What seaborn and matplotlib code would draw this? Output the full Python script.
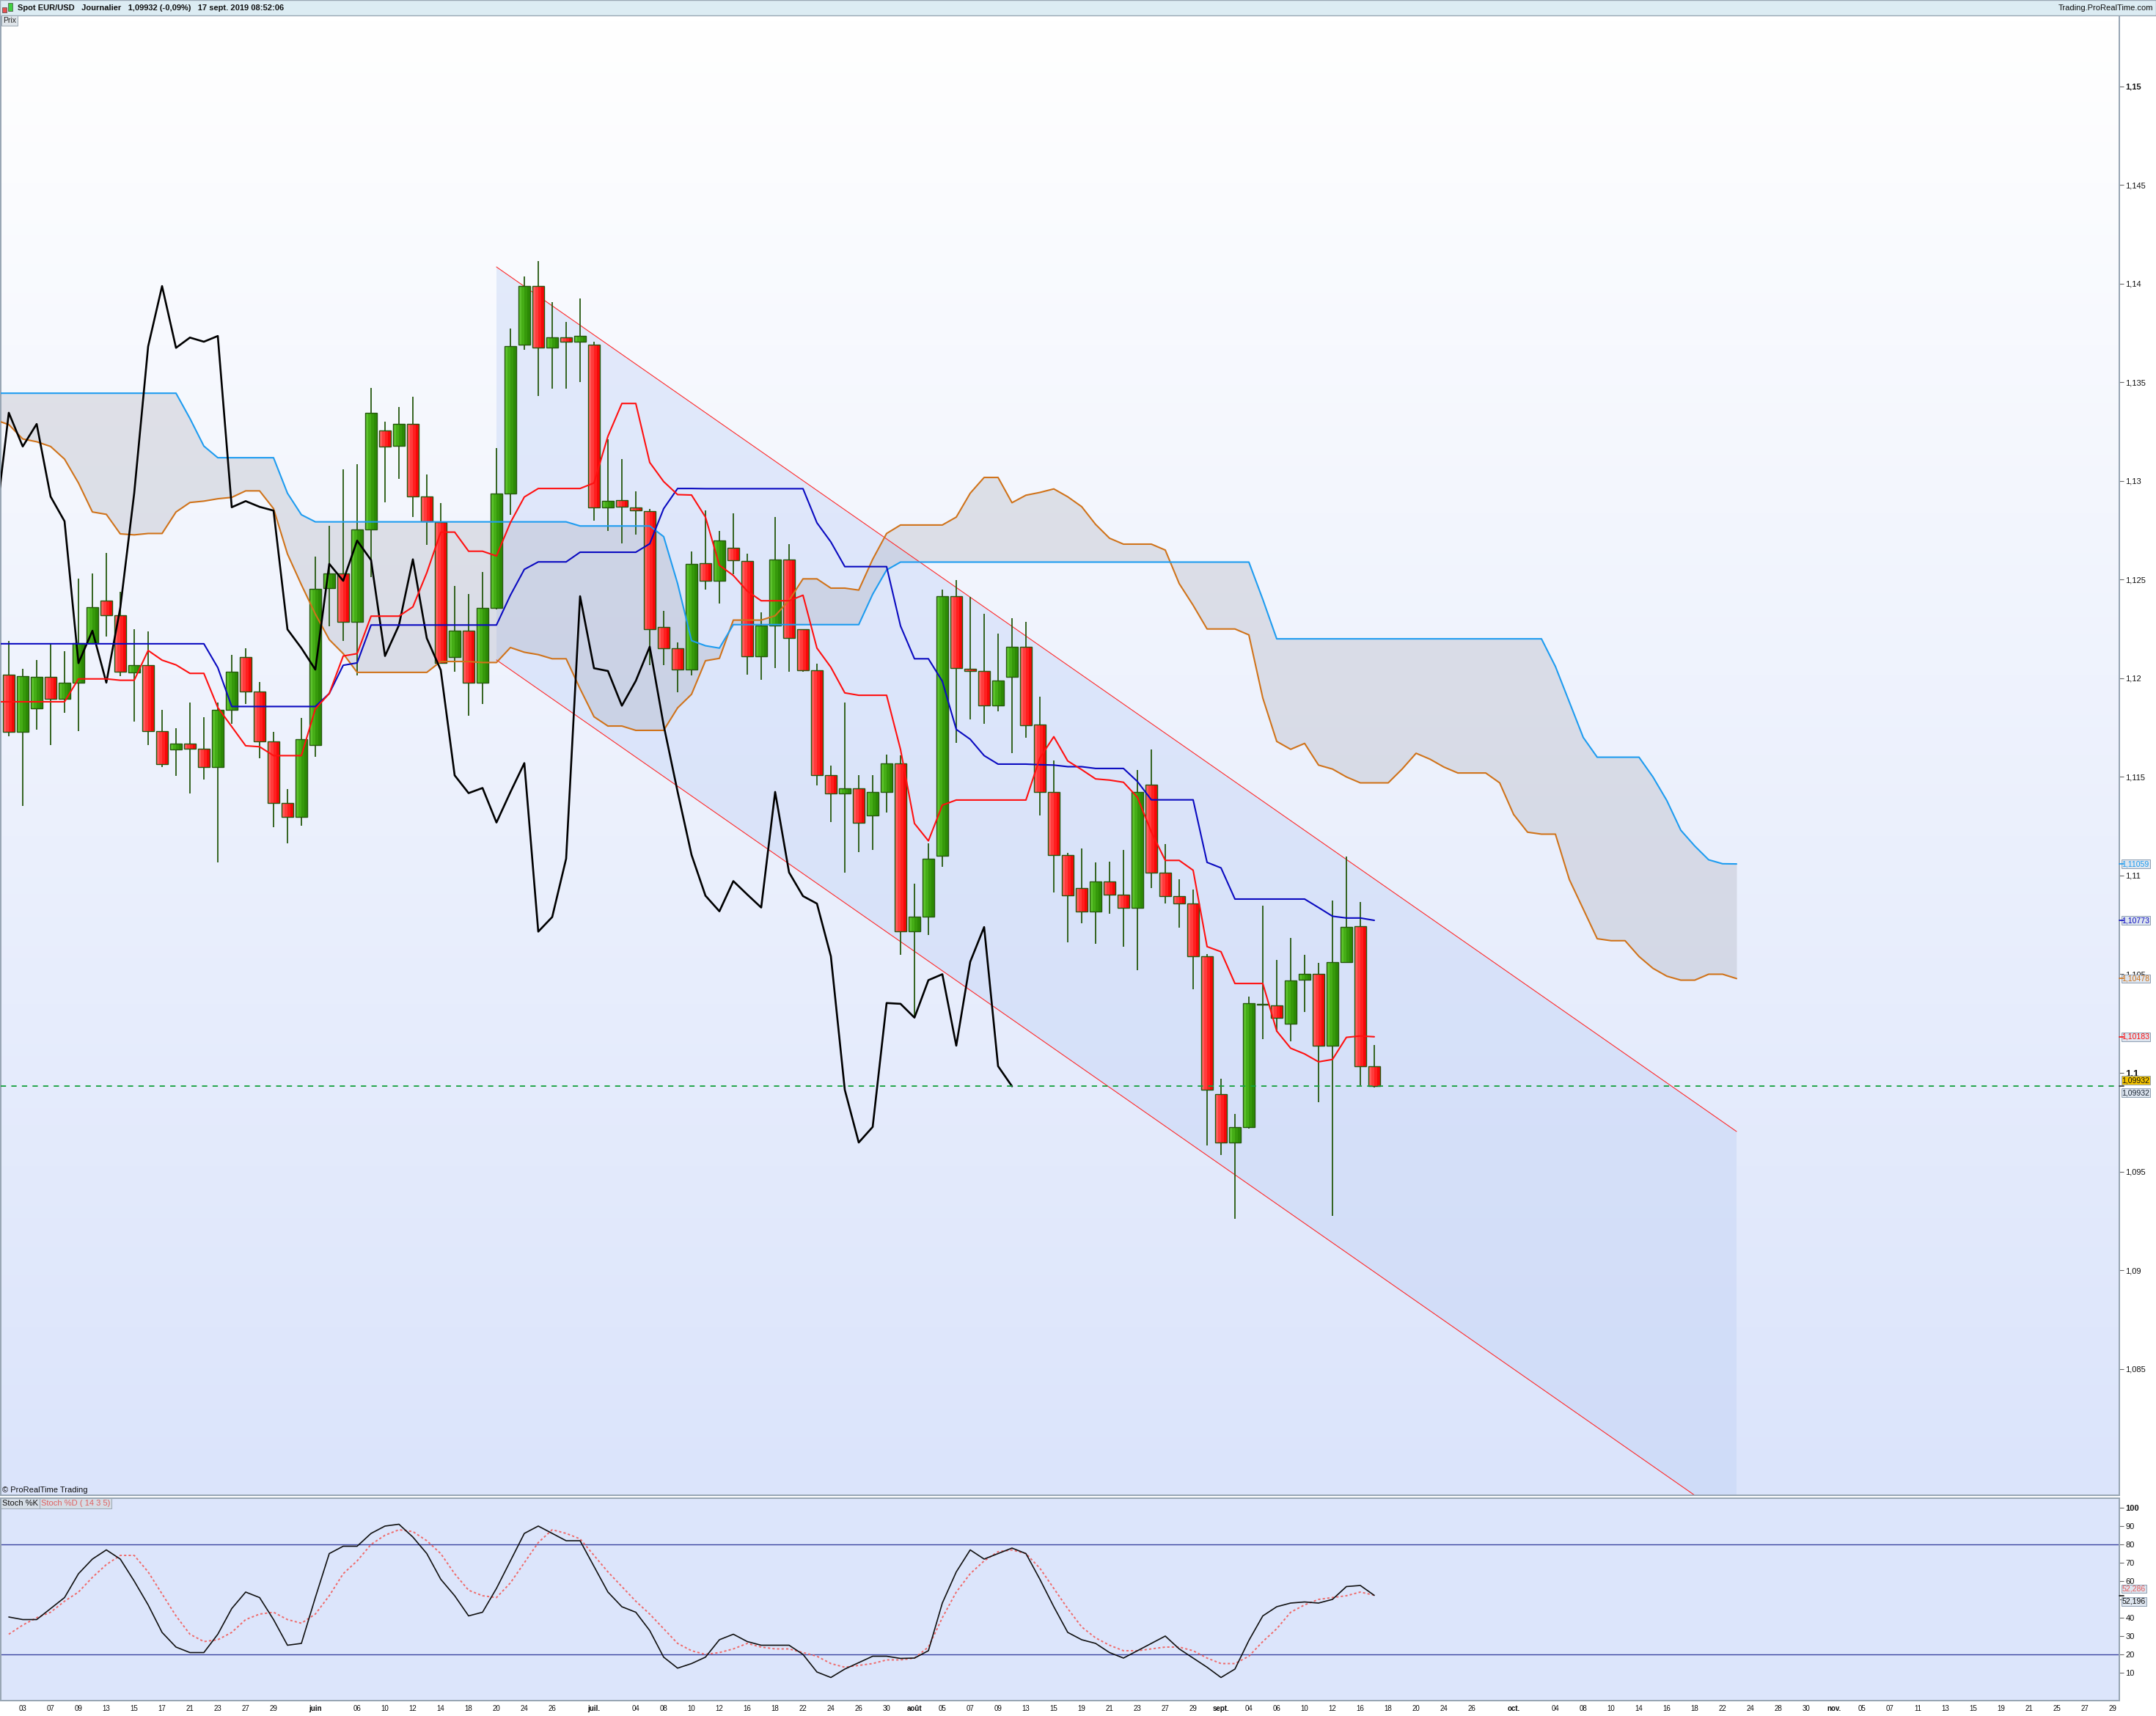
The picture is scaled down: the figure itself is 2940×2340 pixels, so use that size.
import numpy as np
import pandas as pd
import matplotlib
matplotlib.use("Agg")
import matplotlib.pyplot as plt
import seaborn as sns
from matplotlib.patches import Rectangle, Polygon
from matplotlib.colors import LinearSegmentedColormap

# ---- daily candles EUR/USD, 2 May .. 17 Sept 2019 (99 sessions) ----
opens = [1.12018, 1.11727, 1.11848, 1.12009, 1.11895, 1.11976, 1.12179, 1.12393, 1.12319, 1.12030,
         1.12068, 1.11731, 1.11639, 1.11670, 1.11644, 1.11551, 1.11840, 1.12108, 1.11933, 1.11679,
         1.11369, 1.11298, 1.11663, 1.12457, 1.12533, 1.12286, 1.12753, 1.13258, 1.13177, 1.13289,
         1.12921, 1.12793, 1.12108, 1.12241, 1.11978, 1.12357, 1.12938, 1.13690, 1.13988, 1.13675,
         1.13730, 1.13706, 1.13690, 1.12867, 1.12903, 1.12867, 1.12848, 1.12260, 1.12151, 1.12044,
         1.12582, 1.12494, 1.12663, 1.12596, 1.12113, 1.12269, 1.12603, 1.12250, 1.12042, 1.11508,
         1.11418, 1.11444, 1.11304, 1.11423, 1.11570, 1.10716, 1.10790, 1.11101, 1.12416, 1.12049,
         1.12037, 1.11861, 1.12006, 1.12160, 1.11767, 1.11425, 1.11105, 1.10936, 1.10819, 1.10972,
         1.10902, 1.10838, 1.11460, 1.11016, 1.10894, 1.10857, 1.10591, 1.09891, 1.09647, 1.09726,
         1.10346, 1.10341, 1.10250, 1.10472, 1.10500, 1.10138, 1.10563, 1.10743, 1.10032]
highs = [1.12189, 1.12047, 1.12092, 1.12177, 1.12137, 1.12507, 1.12530, 1.12635, 1.12438, 1.12248,
         1.12236, 1.11840, 1.11746, 1.11876, 1.11802, 1.11876, 1.12120, 1.12153, 1.11983, 1.11727,
         1.11437, 1.11800, 1.12618, 1.12772, 1.13061, 1.13085, 1.13471, 1.13301, 1.13374, 1.13426,
         1.13033, 1.12888, 1.12469, 1.12428, 1.12537, 1.13166, 1.13773, 1.14036, 1.14114, 1.13905,
         1.13808, 1.13924, 1.13706, 1.13211, 1.13111, 1.12948, 1.12860, 1.12341, 1.12182, 1.12642,
         1.12852, 1.12748, 1.12836, 1.12632, 1.12336, 1.12817, 1.12679, 1.12250, 1.12075, 1.11558,
         1.11876, 1.11508, 1.11508, 1.11613, 1.11608, 1.10958, 1.11165, 1.12449, 1.12497, 1.12414,
         1.12326, 1.12227, 1.12305, 1.12286, 1.11907, 1.11583, 1.11114, 1.11137, 1.11067, 1.11071,
         1.11130, 1.11535, 1.11640, 1.11160, 1.10982, 1.10930, 1.10604, 1.09971, 1.09793, 1.10386,
         1.10847, 1.10572, 1.10684, 1.10599, 1.10559, 1.10874, 1.11097, 1.10866, 1.10142]
lows = [1.11705, 1.11352, 1.11739, 1.11663, 1.11824, 1.11731, 1.12179, 1.12213, 1.12011, 1.11781,
        1.11660, 1.11549, 1.11504, 1.11418, 1.11485, 1.11068, 1.11769, 1.11869, 1.11594, 1.11245,
        1.11165, 1.11253, 1.11601, 1.12262, 1.12191, 1.12016, 1.12514, 1.12893, 1.13009, 1.12819,
        1.12677, 1.12077, 1.12035, 1.11812, 1.11869, 1.12348, 1.12827, 1.13666, 1.13429, 1.13467,
        1.13469, 1.13500, 1.12798, 1.12746, 1.12682, 1.12727, 1.12068, 1.12068, 1.11928, 1.12016,
        1.12449, 1.12378, 1.12528, 1.12018, 1.11994, 1.12051, 1.12032, 1.12035, 1.11456, 1.11271,
        1.11013, 1.11117, 1.11129, 1.11319, 1.10600, 1.10280, 1.10700, 1.11046, 1.11672, 1.11790,
        1.11769, 1.11831, 1.11620, 1.11698, 1.11306, 1.10913, 1.10663, 1.10760, 1.10656, 1.10805,
        1.10638, 1.10519, 1.10938, 1.10857, 1.10735, 1.10424, 1.09633, 1.09582, 1.09262, 1.09719,
        1.10172, 1.10210, 1.10159, 1.10307, 1.09853, 1.09275, 1.10563, 1.09935, 1.09925]
closes = [1.11727, 1.12011, 1.12009, 1.11895, 1.11976, 1.12179, 1.12360, 1.12319, 1.12032, 1.12068,
          1.11731, 1.11565, 1.11670, 1.11644, 1.11551, 1.11840, 1.12032, 1.11933, 1.11679, 1.11369,
          1.11298, 1.11691, 1.12452, 1.12533, 1.12286, 1.12753, 1.13346, 1.13175, 1.13289, 1.12921,
          1.12796, 1.12077, 1.12241, 1.11978, 1.12357, 1.12938, 1.13682, 1.13988, 1.13675, 1.13727,
          1.13706, 1.13735, 1.12867, 1.12898, 1.12869, 1.12850, 1.12248, 1.12153, 1.12044, 1.12580,
          1.12494, 1.12698, 1.12599, 1.12113, 1.12269, 1.12603, 1.12203, 1.12042, 1.11508, 1.11418,
          1.11444, 1.11269, 1.11423, 1.11570, 1.10716, 1.10790, 1.11086, 1.12416, 1.12051, 1.12037,
          1.11861, 1.11987, 1.12160, 1.11762, 1.11425, 1.11105, 1.10898, 1.10819, 1.10972, 1.10904,
          1.10838, 1.11424, 1.11016, 1.10896, 1.10858, 1.10591, 1.09914, 1.09647, 1.09726, 1.10354,
          1.10350, 1.10280, 1.10470, 1.10500, 1.10138, 1.10563, 1.10739, 1.10034, 1.09932]

# ---- Ichimoku lines (first point = 1 May, just off the left edge) ----
tenkan = [1.11881,
          1.11881, 1.11881, 1.11881, 1.11881, 1.11881, 1.11997, 1.11997, 1.11997, 1.11990, 1.11990,
          1.12141, 1.12092, 1.12068, 1.12025, 1.12025, 1.11852, 1.11755, 1.11658, 1.11653, 1.11608,
          1.11608, 1.11608, 1.11845, 1.11923, 1.12113, 1.12125, 1.12315, 1.12315, 1.12315, 1.12362,
          1.12535, 1.12741, 1.12741, 1.12644, 1.12644, 1.12620, 1.12789, 1.12919, 1.12962, 1.12962,
          1.12962, 1.12962, 1.12990, 1.13227, 1.13393, 1.13393, 1.13094, 1.12997, 1.12931, 1.12929,
          1.12817, 1.12573, 1.12521, 1.12442, 1.12393, 1.12393, 1.12393, 1.12421, 1.12153, 1.12056,
          1.11926, 1.11914, 1.11914, 1.11914, 1.11639, 1.11264, 1.11176, 1.11357, 1.11383, 1.11383,
          1.11383, 1.11383, 1.11383, 1.11383, 1.11596, 1.11704, 1.11581, 1.11537, 1.11490, 1.11484,
          1.11473, 1.11397, 1.11221, 1.11077, 1.11077, 1.11027, 1.10640, 1.10614, 1.10453, 1.10453,
          1.10453, 1.10212, 1.10125, 1.10096, 1.10056, 1.10068, 1.10180, 1.10187, 1.10183]
kijun = [1.12175,
         1.12175, 1.12175, 1.12175, 1.12175, 1.12175, 1.12175, 1.12175, 1.12175, 1.12175, 1.12175,
         1.12175, 1.12175, 1.12175, 1.12175, 1.12175, 1.12054, 1.11857, 1.11857, 1.11857, 1.11857,
         1.11857, 1.11857, 1.11857, 1.11923, 1.12066, 1.12078, 1.12270, 1.12270, 1.12270, 1.12270,
         1.12270, 1.12270, 1.12270, 1.12270, 1.12270, 1.12270, 1.12421, 1.12552, 1.12590, 1.12590,
         1.12590, 1.12639, 1.12639, 1.12639, 1.12639, 1.12639, 1.12682, 1.12860, 1.12962, 1.12962,
         1.12961, 1.12961, 1.12961, 1.12961, 1.12961, 1.12961, 1.12961, 1.12961, 1.12788, 1.12691,
         1.12566, 1.12566, 1.12566, 1.12566, 1.12265, 1.12099, 1.12099, 1.11985, 1.11741, 1.11691,
         1.11608, 1.11565, 1.11565, 1.11565, 1.11562, 1.11560, 1.11552, 1.11552, 1.11543, 1.11543,
         1.11543, 1.11477, 1.11384, 1.11384, 1.11384, 1.11384, 1.11067, 1.11039, 1.10881, 1.10881,
         1.10881, 1.10881, 1.10881, 1.10881, 1.10838, 1.10794, 1.10785, 1.10785, 1.10773]
# senkou spans, already shifted 26 sessions ahead (1 May .. 23 Oct, 126 points)
span_a = [1.13310,
          1.13286, 1.13213, 1.13199, 1.13175, 1.13111, 1.12990, 1.12843, 1.12831, 1.12732, 1.12727,
          1.12734, 1.12734, 1.12843, 1.12891, 1.12898, 1.12910, 1.12917, 1.12950, 1.12950, 1.12860,
          1.12630, 1.12474, 1.12326, 1.12196, 1.12125, 1.12030, 1.12030, 1.12030, 1.12030, 1.12030,
          1.12030, 1.12085, 1.12085, 1.12085, 1.12080, 1.12080, 1.12156, 1.12132, 1.12120, 1.12099,
          1.12099, 1.11947, 1.11805, 1.11758, 1.11758, 1.11736, 1.11736, 1.11736, 1.11850, 1.11919,
          1.12089, 1.12101, 1.12295, 1.12295, 1.12295, 1.12317, 1.12395, 1.12504, 1.12504, 1.12457,
          1.12457, 1.12447, 1.12603, 1.12734, 1.12777, 1.12777, 1.12777, 1.12777, 1.12817, 1.12938,
          1.13018, 1.13018, 1.12890, 1.12928, 1.12942, 1.12960, 1.12920, 1.12870, 1.12780, 1.12710,
          1.12680, 1.12680, 1.12680, 1.12650, 1.12480, 1.12370, 1.12250, 1.12250, 1.12250, 1.12220,
          1.11900, 1.11680, 1.11640, 1.11670, 1.11560, 1.11540, 1.11500, 1.11470, 1.11470, 1.11470,
          1.11540, 1.11620, 1.11590, 1.11550, 1.11520, 1.11520, 1.11520, 1.11470, 1.11310, 1.11220,
          1.11210, 1.11210, 1.10980, 1.10830, 1.10680, 1.10670, 1.10670, 1.10590, 1.10530, 1.10490,
          1.10470, 1.10470, 1.10500, 1.10500, 1.10478]
span_b = [1.13445,
          1.13445, 1.13445, 1.13445, 1.13445, 1.13445, 1.13445, 1.13445, 1.13445, 1.13445, 1.13445,
          1.13445, 1.13445, 1.13445, 1.13317, 1.13177, 1.13118, 1.13118, 1.13118, 1.13118, 1.13118,
          1.12938, 1.12829, 1.12793, 1.12793, 1.12793, 1.12793, 1.12793, 1.12793, 1.12793, 1.12793,
          1.12793, 1.12793, 1.12793, 1.12793, 1.12793, 1.12793, 1.12793, 1.12793, 1.12793, 1.12793,
          1.12793, 1.12772, 1.12772, 1.12772, 1.12772, 1.12772, 1.12772, 1.12718, 1.12480, 1.12191,
          1.12165, 1.12153, 1.12272, 1.12272, 1.12272, 1.12272, 1.12272, 1.12272, 1.12272, 1.12272,
          1.12272, 1.12272, 1.12426, 1.12549, 1.12589, 1.12589, 1.12589, 1.12589, 1.12589, 1.12589,
          1.12589, 1.12589, 1.12589, 1.12589, 1.12589, 1.12589, 1.12589, 1.12589, 1.12589, 1.12589,
          1.12589, 1.12589, 1.12589, 1.12589, 1.12589, 1.12589, 1.12589, 1.12589, 1.12589, 1.12589,
          1.12400, 1.12200, 1.12200, 1.12200, 1.12200, 1.12200, 1.12200, 1.12200, 1.12200, 1.12200,
          1.12200, 1.12200, 1.12200, 1.12200, 1.12200, 1.12200, 1.12200, 1.12200, 1.12200, 1.12200,
          1.12200, 1.12060, 1.11880, 1.11700, 1.11600, 1.11600, 1.11600, 1.11600, 1.11500, 1.11380,
          1.11230, 1.11150, 1.11080, 1.11060, 1.11059]

# ---- stochastic (14 3 5) ----
stoch_k = [40.4, 39, 39, 45, 51, 64, 72, 77, 72, 60, 47, 32, 24, 21, 21, 31, 45, 54, 51, 39,
           25, 26, 51, 75, 79, 79, 86, 90, 91, 84, 75, 61, 52, 41, 43, 56, 71, 86, 90, 86,
           82, 82, 68, 54, 46, 43, 33, 18.5, 12.5, 15, 18.5, 28, 31, 27, 25, 25, 25, 20, 10.4, 7.4,
           12, 15.5, 19, 19, 17.8, 18, 22, 48, 65, 77, 72, 75, 78, 75, 61, 46, 32, 28, 26, 21,
           18, 22, 26, 30, 23, 18, 13, 7.4, 12, 27.6, 41, 46, 48, 48.6, 48, 50, 57, 57.6, 52.196]
stoch_d = [31, 36, 40, 43, 49, 54, 62, 69, 74, 74, 65, 53, 41, 31, 27, 28, 32, 39, 42, 43,
           39, 37, 42, 52, 64, 71, 80, 85, 88, 87, 82, 75, 64, 55, 52, 51, 59, 70, 81, 88,
           86, 83, 74, 65, 57, 49, 42, 34, 26, 22, 20, 21, 23, 26, 24, 23, 23, 21, 19, 15,
           13, 14, 15, 17, 17, 18, 24, 40, 54, 64, 71, 76, 77, 75, 67, 56, 45, 35, 29, 25,
           22, 22, 23, 24, 24, 22, 18, 15, 15, 19, 27, 34, 43, 47, 50, 51, 52, 54, 52.286]

# drawn channel (session index, price)
channel_x = [35, 124]
channel_upper = [1.14085, 1.09703]
channel_lower = [1.12093, 1.07711]

last_price = 1.09932
price_ticks = [1.085, 1.09, 1.095, 1.1, 1.105, 1.11, 1.115, 1.12, 1.125, 1.13, 1.135, 1.14, 1.145, 1.15]
stoch_ticks = [10, 20, 30, 40, 50, 60, 70, 80, 90, 100]
# "50" sits under the value tags on the reference scale
stoch_tick_labels = ["10", "20", "30", "40", "", "60", "70", "80", "90", "100"]
month_names = {6: "juin", 7: "juil.", 8: "août", 9: "sept.", 10: "oct.", 11: "nov."}
first_day = "2019-05-02"
n_axis_days = 152

W, H = 2940, 2340


def frac(x0, y0, x1, y1):
    """pixel box (top-left origin) -> figure fraction rect"""
    return [x0 / W, 1 - y1 / H, (x1 - x0) / W, (y1 - y0) / H]


def fmt(v):
    s = ("%.3f" % v).rstrip("0").rstrip(".")
    return s.replace(".", ",")


def tag(axis, val, text, fc, tc, dy=0.0, tick_color=None):
    axis.annotate(text, xy=(1, val), xycoords=axis.get_yaxis_transform(),
                  xytext=(2.6, dy), textcoords="offset points", ha="left", va="center",
                  fontsize=7.6, color=tc, annotation_clip=False, zorder=20,
                  bbox=dict(boxstyle="square,pad=0.08", fc=fc, ec="#8f9fb2", lw=0.7))
    if tick_color:
        axis.plot([1, 1.0022], [val, val], transform=axis.get_yaxis_transform(),
                  color=tick_color, lw=1.2, clip_on=False, zorder=20)


sns.set_theme(style="white")
plt.rcParams["font.family"] = ["Liberation Sans", "DejaVu Sans"]

fig = plt.figure(figsize=(W / 100, H / 100), dpi=100)
fig.patch.set_facecolor("white")

ax = fig.add_axes(frac(1, 21, 2890, 2039))
ax2 = fig.add_axes(frac(1, 2043, 2890, 2319))

xlim = ((1 - 12) / 19, (2890 - 12) / 19)
ylim = (1.07859, 1.15360)

idx = np.arange(len(closes))
line_idx = np.arange(-1, len(tenkan) - 1)
span_idx = np.arange(-1, len(span_a) - 1)

# background gradient
bg = LinearSegmentedColormap.from_list("bg", ["#ffffff", "#dbe4fb"])
ax.imshow(np.linspace(0, 1, 256).reshape(-1, 1), cmap=bg, aspect="auto", origin="upper",
          extent=[xlim[0], xlim[1], ylim[0], ylim[1]], zorder=0)

# channel fill and borders
chan = Polygon([(channel_x[0], channel_upper[0]), (channel_x[1], channel_upper[1]),
                (channel_x[1], channel_lower[1]), (channel_x[0], channel_lower[0])],
               closed=True, fc="#bccef5", ec="none", alpha=0.36, zorder=1)
ax.add_patch(chan)
sns.lineplot(x=channel_x, y=channel_upper, ax=ax, color="#ff2a2a", linewidth=0.8, zorder=2.5)
sns.lineplot(x=channel_x, y=channel_lower, ax=ax, color="#ff2a2a", linewidth=0.8, zorder=2.5)

# kumo
ax.fill_between(span_idx, span_a, span_b, color="#9b9ba8", alpha=0.25, lw=0, zorder=1.5)

# candles
o = np.array(opens); c = np.array(closes)
up = c >= o
bottoms = np.minimum(o, c)
heights = np.maximum(np.abs(c - o), 0.00004)
green_shades = ["#5cc22c", "#45ad16", "#36990b", "#2c8a05"]
red_shades = ["#ff5c5c", "#ff3b3b", "#ff1f1f", "#f50808"]
edge = "#26590f"
ax.vlines(idx, lows, highs, color=edge, lw=1.3, zorder=3.5)
bw = 0.84
for k in range(4):
    cols = [green_shades[k] if u else red_shades[k] for u in up]
    ax.bar(idx - bw / 2 + (k + 0.5) * bw / 4, heights, bottom=bottoms, width=bw / 4,
           color=cols, linewidth=0, zorder=4)
ax.bar(idx, heights, bottom=bottoms, width=bw, fill=False, edgecolor=edge, linewidth=1.0, zorder=5)

# ichimoku lines
sns.lineplot(x=span_idx, y=span_a, ax=ax, color="#d0731a", linewidth=1.5, zorder=6)
sns.lineplot(x=span_idx, y=span_b, ax=ax, color="#1e9cf0", linewidth=1.5, zorder=6)
sns.lineplot(x=idx[25:] - 26, y=closes[25:], ax=ax, color="black", linewidth=1.9, zorder=6)
sns.lineplot(x=line_idx, y=kijun, ax=ax, color="#0a0ac0", linewidth=1.5, zorder=6.2)
sns.lineplot(x=line_idx, y=tenkan, ax=ax, color="#ff1010", linewidth=1.5, zorder=6.3)

ax.axhline(last_price, color="#15a03c", lw=1.3, ls=(0, (4, 4)), zorder=7)

ax.set_xlim(xlim)
ax.set_ylim(ylim)
ax.set_xticks([])
ax.yaxis.tick_right()
ax.set_yticks(price_ticks)
ax.set_yticklabels([fmt(v) for v in price_ticks])
ax.tick_params(axis="y", direction="out", length=4, width=0.8, color="#666666",
               labelsize=8, pad=2, labelcolor="#111111")
for lab, v in zip(ax.get_yticklabels(), price_ticks):
    if abs(v - 1.15) < 1e-9:
        lab.set_fontweight("bold")
    if abs(v - 1.1) < 1e-9:
        lab.set_fontweight("bold")
        lab.set_fontsize(9.5)

# value tags on the price scale
tag(ax, span_b[-1], "1,11059", "#dde5ef", "#1e9cf0", tick_color="#1e9cf0")
tag(ax, kijun[-1], "1,10773", "#dde5ef", "#0a0ac0", tick_color="#0a0ac0")
tag(ax, span_a[-1], "1,10478", "#dde5ef", "#d0731a", tick_color="#d0731a")
tag(ax, tenkan[-1], "1,10183", "#dde5ef", "#ff1010", tick_color="#ff1010")
tag(ax, last_price, "1,09932", "#f5c400", "#111111", dy=5.9, tick_color="#333333")
tag(ax, last_price, "1,09932", "#dde5ef", "#1a2533", dy=-6.4)

# ---- stochastic panel ----
ax2.set_facecolor("#dce5fb")
ax2.axhline(80, color="#3c46a0", lw=1.0, zorder=1)
ax2.axhline(20, color="#3c46a0", lw=1.0, zorder=1)
sns.lineplot(x=idx, y=stoch_d, ax=ax2, color="#f06a6a", linewidth=1.4,
             linestyle=(0, (1.6, 1.6)), zorder=3)
sns.lineplot(x=idx, y=stoch_k, ax=ax2, color="#111111", linewidth=1.2, zorder=4)
ax2.set_xlim(xlim)
ax2.set_ylim(-5.2, 105.2)
ax2.yaxis.tick_right()
ax2.set_yticks(stoch_ticks)
ax2.set_yticklabels(stoch_tick_labels)
ax2.tick_params(axis="y", direction="out", length=4, width=0.8, color="#666666",
                labelsize=8, pad=2, labelcolor="#111111")
ax2.get_yticklabels()[-1].set_fontweight("bold")
tag(ax2, stoch_d[-1], "52,286", "#dde5ef", "#e85a5a", dy=6.3)
tag(ax2, stoch_k[-1], "52,196", "#dde5ef", "#111111", dy=-6.0, tick_color="#111111")

# date axis: every second session, month names on first session of month
dates = pd.bdate_range(first_day, periods=n_axis_days)
month_start = {i for i in range(1, len(dates)) if dates[i].month != dates[i - 1].month}
tick_pos, tick_lab, tick_bold = [], [], []
for i, d in enumerate(dates):
    if i in month_start:
        tick_pos.append(i); tick_lab.append(month_names[d.month]); tick_bold.append(True)
    elif i % 2 == 1 and (i - 1) not in month_start and (i + 1) not in month_start:
        tick_pos.append(i); tick_lab.append("%02d" % d.day); tick_bold.append(False)
ax2.set_xticks(tick_pos)
ax2.set_xticklabels(tick_lab)
ax2.tick_params(axis="x", direction="out", length=3, width=0.8, color="#555555",
                labelsize=7, pad=1.5, labelcolor="#111111")
for lab, b in zip(ax2.get_xticklabels(), tick_bold):
    if b:
        lab.set_fontweight("bold")

for a in (ax, ax2):
    for s in a.spines.values():
        s.set_color("#97a5b3")
        s.set_linewidth(1.4)
    a.set_xlabel("")
    a.set_ylabel("")

# ---- header bar and small labels ----
fig.patches.append(Rectangle((0, 1 - 21 / H), 1, 21 / H, transform=fig.transFigure,
                             fc="#dcecf3", ec="#9aa8b4", lw=1.0, zorder=0))
# tiny candle icon
fig.patches.append(Rectangle((3 / W, 1 - 17 / H), 6 / W, 7 / H, transform=fig.transFigure,
                             fc="#e85050", ec="#444444", lw=0.5))
fig.patches.append(Rectangle((11 / W, 1 - 15 / H), 6 / W, 11 / H, transform=fig.transFigure,
                             fc="#40d040", ec="#444444", lw=0.5))
fig.text(24 / W, 1 - 11 / H, "Spot EUR/USD   Journalier   1,09932 (-0,09%)   17 sept. 2019 08:52:06",
         fontsize=8, fontweight="bold", va="center", ha="left", color="#111111")
fig.text(2936 / W, 1 - 11 / H, "Trading.ProRealTime.com", fontsize=8, va="center", ha="right",
         color="#111111")
fig.text(4 / W, 1 - 28 / H, "Prix", fontsize=7.5, va="center", ha="left", color="#222222",
         bbox=dict(boxstyle="square,pad=0.15", fc="#dfe5ea", ec="#9aa8b4", lw=0.7))
fig.text(3 / W, 1 - 2032 / H, "© ProRealTime Trading", fontsize=8, va="center", ha="left",
         color="#111111")
fig.text(3 / W, 1 - 2050 / H, "Stoch %K", fontsize=8, va="center", ha="left", color="#111111",
         bbox=dict(boxstyle="square,pad=0.15", fc="#d5dde6", ec="#9aa8b4", lw=0.7))
fig.text(56 / W, 1 - 2050 / H, "Stoch %D ( 14 3 5)", fontsize=8, va="center", ha="left",
         color="#e06060", bbox=dict(boxstyle="square,pad=0.15", fc="#d5dde6", ec="#9aa8b4", lw=0.7))

fig.savefig("out.png", dpi=100, facecolor="white")
